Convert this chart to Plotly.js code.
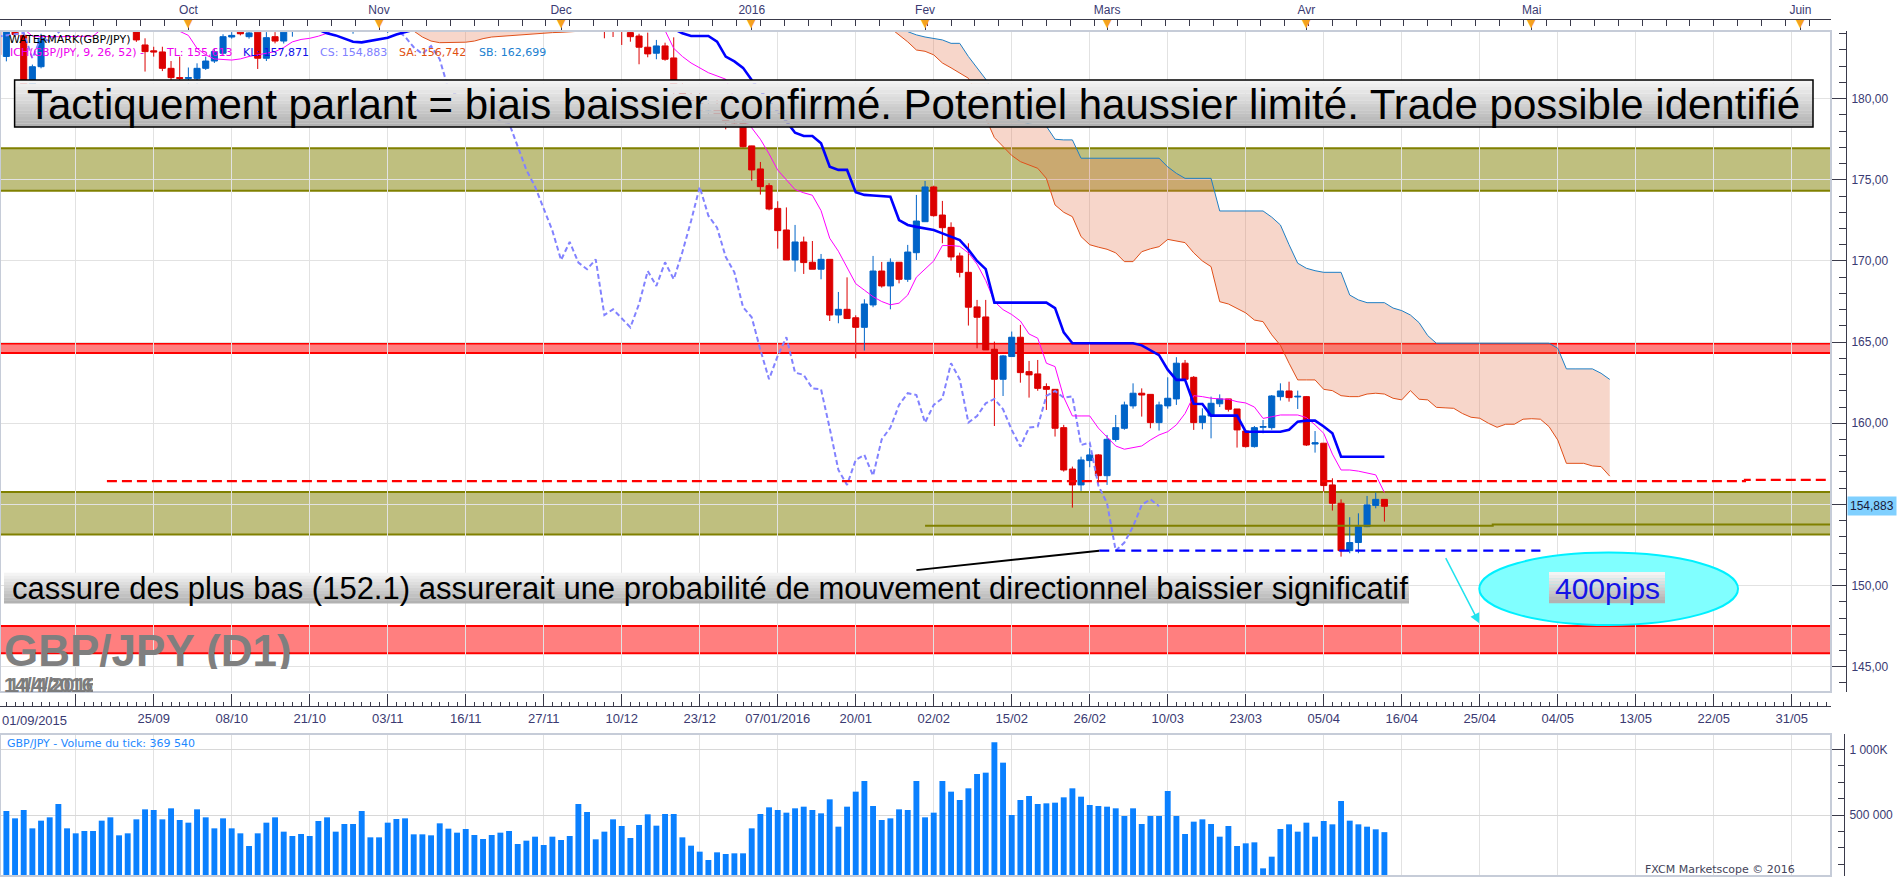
<!DOCTYPE html>
<html><head><meta charset="utf-8">
<script src="https://cdn.plot.ly/plotly-3.0.1.min.js"></script>
<style>html,body{margin:0;padding:0;background:#fff;overflow:hidden}#chart{width:1903px;height:878px}</style>
</head><body><div id="chart"></div>
<script>
// ---------- DATA (bar index 0 = 01/09/2015, trading days) ----------
const openP = [
186.0,182.6,184.4,183.9,180.8,181.97,184.3,185.0,185.8,185.4,
185.6,186.5,186.9,186.6,185.8,185.1,184.6,183.31,182.95,182.88,
181.87,181.3,181.25,181.25,181.87,182.32,182.8,183.8,184.1,183.82,
184.1,182.49,183.82,183.55,184.25,184.6,185.1,185.5,185.3,184.8,
185.2,184.9,185.1,185.6,186.0,185.4,185.5,186.0,186.6,186.4,
185.7,186.2,186.7,186.9,186.3,186.5,186.8,187.2,187.0,186.5,
185.6,185.9,185.4,185.7,185.9,186.1,185.2,185.5,184.9,185.3,
184.6,184.4,184.3,184.07,183.86,183.17,182.80,183.25,182.51,180.6,
180.2,179.9,179.3,179.5,179.0,178.6,178.5,177.09,175.67,174.64,
173.24,171.91,170.06,171.17,169.92,169.49,170.10,166.67,167.02,166.5,
165.91,167.29,169.38,168.46,169.92,168.87,170.51,172.42,174.56,172.83,
172.07,170.31,169.30,167.17,166.55,164.56,162.71,164.11,165.30,163.18,
163.04,162.26,162.09,159.73,157.18,156.20,157.70,158.05,156.77,159.00,
159.69,161.07,161.85,161.78,160.04,161.07,161.50,163.70,162.83,160.04,
160.45,161.20,161.50,160.88,159.52,158.56,159.75,159.73,161.64,161.99,
161.62,161.64,158.72,158.77,156.20,155.07,152.15,152.65,153.63,154.93,
155.31];
const highP = [
186.3,184.6,185.0,184.3,182.1,184.0,185.3,186.1,186.4,186.0,
186.8,187.3,187.6,187.0,186.3,185.5,185.0,183.72,183.2,183.2,
182.32,182.59,181.92,182.18,182.59,183.1,183.97,184.1,184.5,184.4,
184.3,184.1,184.1,184.5,184.9,185.3,185.8,186.2,185.6,185.4,
185.9,185.4,185.8,186.3,186.4,185.7,186.3,186.9,187.2,186.8,
186.5,187.0,187.4,187.3,186.9,187.1,187.5,187.9,187.4,186.9,
186.2,186.4,186.0,186.3,186.6,186.7,185.8,186.0,185.6,185.9,
185.0,184.8,184.6,184.5,184.0,184.07,183.62,183.45,183.78,181.0,
180.9,180.6,179.9,179.9,179.4,179.0,178.7,177.1,176.10,174.79,
173.68,173.3,172.22,171.50,171.23,170.43,170.10,168.09,168.99,166.65,
167.64,170.31,169.94,170.16,169.92,170.99,174.07,174.93,174.64,173.70,
172.38,170.51,171.09,167.60,167.60,165.03,164.20,165.65,166.06,163.84,
163.90,162.46,162.09,159.90,157.33,157.94,158.46,158.10,159.28,160.51,
161.33,162.46,162.15,161.78,161.33,162.83,164.07,163.90,162.91,160.92,
161.64,161.78,161.50,160.88,159.59,159.83,160.20,161.74,162.46,162.56,
162.01,161.68,159.52,158.77,156.61,155.31,154.21,154.45,155.52,155.73,
155.31];
const lowP = [
182.4,182.3,183.8,180.5,180.6,181.87,184.3,184.6,185.1,184.8,
185.3,186.0,186.2,185.5,184.9,184.3,183.5,181.67,182.59,181.7,
181.15,181.1,180.9,180.8,181.77,182.2,182.7,183.7,183.9,183.7,
181.83,182.32,183.41,183.4,183.82,184.4,184.8,185.0,184.5,184.4,
184.7,184.0,184.6,185.2,185.1,184.05,185.0,185.6,186.0,185.4,
185.2,185.8,186.2,186.0,185.6,186.0,186.3,186.7,186.1,185.3,
184.9,185.1,184.8,185.2,185.3,184.9,184.6,184.5,184.4,184.6,
183.72,183.8,183.31,183.51,182.12,182.55,182.43,182.34,180.3,179.9,
179.6,179.0,178.9,178.8,178.11,178.28,177.0,174.95,174.09,173.12,
170.76,170.06,169.34,169.20,169.49,168.87,166.30,166.16,166.45,164.00,
164.48,167.15,168.36,167.02,168.62,168.71,170.06,172.42,172.73,171.09,
170.02,168.99,166.02,164.62,164.52,159.83,161.68,164.11,162.50,161.58,
162.00,160.82,159.18,157.02,154.80,155.83,157.29,156.20,156.20,158.87,
159.60,160.90,160.41,159.69,159.55,160.90,161.13,162.60,159.59,159.63,
159.07,161.00,160.72,158.50,158.50,158.50,159.38,159.60,161.40,161.33,
160.88,158.60,158.19,155.79,154.62,151.78,151.99,151.99,153.60,154.76,
153.94];
const closeP = [
182.7,184.4,183.95,180.8,181.97,183.72,185.0,185.8,185.4,185.6,
186.5,186.9,186.6,185.8,185.1,184.6,183.62,182.9,182.88,181.87,
181.3,181.25,181.3,181.87,182.32,182.9,183.82,183.9,184.0,184.05,
182.49,183.76,183.55,184.1,184.6,185.1,185.5,185.3,184.8,185.2,
184.9,185.1,185.6,186.0,185.4,185.5,186.0,186.6,186.4,185.7,
186.2,186.7,186.9,186.3,186.5,186.8,187.2,187.0,186.5,185.6,
185.9,185.4,185.7,185.9,186.1,185.2,185.5,184.9,185.3,184.8,
184.4,184.3,184.25,183.82,183.17,182.76,183.25,182.43,180.6,180.2,
179.9,179.3,179.5,179.0,178.6,178.5,177.04,175.61,174.58,173.20,
171.87,170.06,171.17,169.90,169.49,170.10,166.67,167.02,166.45,165.91,
167.35,169.38,168.46,169.92,168.87,170.55,172.46,174.56,172.79,172.05,
170.25,169.30,167.15,166.53,164.52,162.71,164.15,165.30,163.12,162.98,
162.15,162.09,159.69,157.12,156.20,157.74,158.05,156.77,159.01,159.73,
161.13,161.85,161.74,160.04,161.13,161.54,163.70,162.71,160.04,160.45,
161.23,161.50,160.86,159.59,158.56,159.73,159.80,161.68,161.99,161.58,
161.66,158.66,158.80,156.16,155.07,152.15,152.65,153.63,154.97,155.31,
154.883];
// Ichimoku lines (null where the line runs above the visible range)
const tenkan = [
null,null,184.4,184.3,183.85,183.82,183.82,183.82,183.82,183.82,
183.82,183.85,184.3,null,null,null,null,null,null,null,
184.4,184.13,183.9,183.1,182.7,182.45,182.42,182.38,182.45,182.6,
182.7,182.79,182.9,183.15,183.5,183.65,183.72,183.85,184.03,184.3,
null,null,null,null,null,null,null,null,null,null,
null,null,null,null,null,null,null,null,null,null,
null,null,null,null,null,null,null,null,null,null,
null,null,null,null,null,null,184.5,184.2,183.1,182.6,
182.2,181.9,181.6,181.4,181.2,180.0,178.8,178.2,177.5,176.6,
175.6,175.0,174.4,174.2,174.05,173.1,171.4,170.6,169.6,168.6,
168.2,167.8,167.5,167.3,167.4,167.9,169.0,169.5,170.0,170.95,
170.95,170.9,170.5,169.8,168.8,167.5,167.0,166.7,166.3,165.5,
165.24,163.7,163.49,161.6,160.45,160.45,160.45,159.7,159.18,158.6,
158.4,158.5,158.6,158.97,159.28,159.48,159.9,160.6,161.7,161.64,
161.54,161.5,161.48,161.33,161.25,161.0,160.3,160.4,160.51,160.51,
160.51,160.35,159.9,159.38,158.1,157.12,157.12,157.05,156.95,156.82,
155.73];
const kijun = [
null,null,null,null,null,null,null,null,null,null,
null,null,null,null,null,null,null,null,null,null,
null,null,null,null,null,null,null,null,null,null,
null,null,null,null,null,null,null,184.25,184.03,183.9,
183.7,183.51,183.47,183.55,183.65,183.75,183.95,184.1,184.25,null,
null,null,null,null,null,null,null,null,null,null,
null,null,null,null,null,null,null,null,null,null,
null,null,null,null,null,null,null,null,184.3,184.03,
183.86,183.86,183.86,183.51,182.59,182.3,181.9,181.15,180.5,179.8,
179.2,178.6,177.9,177.7,177.7,177.25,175.81,175.61,175.61,174.23,
174.07,174.03,174.0,173.96,172.52,172.22,172.1,172.01,171.91,171.7,
171.5,171.29,170.7,170.0,169.5,167.43,167.43,167.43,167.43,167.43,
167.43,167.43,167.1,165.6,164.93,164.93,164.93,164.93,164.93,164.93,
164.93,164.93,164.8,164.5,164.2,163.3,162.67,162.67,161.2,161.19,
160.47,160.47,160.47,160.47,159.48,159.48,159.48,159.48,159.48,159.6,
160.1,160.16,160.16,159.8,159.38,157.94,157.94,157.94,157.94,157.94,
157.94];
const cloud1Start = 46;
const senkouA1 = [184.6,184.4,184.17,183.8,183.55,183.45,183.45,183.45,183.48,183.55,183.7,183.8,
  183.84,183.9,183.92,183.98,184.03,184.05,184.07,184.09,184.1,184.15,184.4,184.6];
const senkouB1 = [185.5,185.5,185.5,185.5,185.5,185.5,185.5,185.5,185.5,185.5,185.5,185.5,
  185.5,185.5,185.5,185.5,185.5,185.5,185.5,185.5,185.5,185.5,185.5,185.5];
const cloud2Start = 103;
const senkouA2 = [
184.35,183.95,183.5,183.0,182.92,182.7,182.2,181.9,181.6,181.26,
180.3,178.8,177.6,177.04,176.5,176.12,175.91,175.71,175.09,173.45,
173.0,172.73,171.5,171.0,170.85,170.72,170.5,169.96,169.96,170.57,
170.75,170.88,171.33,171.25,171.13,170.5,170.0,169.65,167.49,167.35,
167.1,166.8,166.36,166.26,165.45,164.8,163.7,162.67,162.67,162.67,
162.09,162.01,161.7,161.64,161.64,161.8,161.85,161.8,161.54,161.44,
162.01,161.48,161.44,160.98,160.95,160.92,160.6,160.37,160.31,160.0,
159.75,159.94,159.94,160.25,160.28,160.25,159.79,158.97,157.53,157.53,
157.53,157.37,157.33,156.74];
const senkouB2 = [
185.0,184.6,184.13,183.93,183.8,183.72,183.62,183.41,183.41,182.6,
181.9,181.2,180.3,179.5,178.9,178.6,178.45,178.35,178.3,177.5,
177.46,177.46,176.33,176.33,176.33,176.33,176.33,176.33,176.33,176.33,
176.33,176.33,175.8,175.4,175.09,175.09,175.09,175.09,173.08,173.08,
173.08,173.08,173.08,173.08,172.7,172.22,171.0,169.86,169.55,169.4,
169.3,169.3,169.3,167.9,167.6,167.43,167.43,167.43,167.1,166.94,
166.67,166.2,165.4,164.93,164.93,164.93,164.93,164.93,164.93,164.93,
164.93,164.93,164.93,164.93,164.93,164.93,164.93,164.62,163.35,163.35,
163.35,163.35,163.08,162.7];
const chikouShift = 26;
// tick volume, thousands
const volumeK = [
621.8,530.5,474.6,538.1,398.5,456.9,482.3,583.7,398.5,360.5,
378.3,378.3,456.9,482.3,345.3,360.5,467.0,543.1,538.1,467.0,
550.8,462.0,441.7,543.1,482.3,398.5,474.6,398.5,360.5,264.1,
360.5,441.7,482.3,373.2,340.2,355.4,340.2,454.4,482.3,373.2,
431.5,431.5,530.5,330.0,330.0,441.7,469.6,474.6,352.9,352.9,
345.3,436.6,396.0,365.6,393.5,347.8,317.4,347.8,365.6,378.3,
279.3,304.7,335.1,271.7,335.1,309.8,340.2,583.7,522.8,314.9,
373.2,467.0,416.3,325.0,423.9,505.1,418.8,507.6,507.6,330.0,
266.6,221.0,157.5,215.9,203.2,208.3,208.3,398.5,507.6,558.4,
538.1,517.8,550.8,563.4,538.1,512.7,619.2,411.2,563.4,677.6,
758.8,568.5,462.0,474.6,543.1,538.1,758.8,482.3,517.8,758.8,
677.6,614.2,703.0,812.1,822.2,1053.0,898.3,500.0,614.2,644.6,
583.7,588.8,593.9,634.5,703.0,639.5,576.2,568.5,563.4,550.8,
492.4,550.8,431.5,492.4,492.4,682.7,492.4,355.4,449.3,467.0,
431.5,335.1,416.3,264.1,284.4,292.0,94.1,182.9,393.5,429.0,
373.2,441.7,335.1,454.4,429.0,606.6,456.9,429.0,411.2,391.0,
369.54];
// axis labels
const dateTickIdx = [0,9,18,27,36,45,54,63,72,81,90,99,108,117,126,135,144,153,162,171,180,189,198,207];
const dateTickText = ['','','25/09','08/10','21/10','03/11','16/11','27/11','10/12','23/12','07/01/2016','20/01',
  '02/02','15/02','26/02','10/03','23/03','05/04','16/04','25/04','04/05','13/05','22/05','31/05'];
const firstDateLabel = '01/09/2015';
const monthIdx = [22,44,65,87,107,128,151,177,208];
const monthText = ['Oct','Nov','Dec','2016','Fev','Mars','Avr','Mai','Juin'];
const priceTicks = [145,150,155,160,165,170,175,180];
// drawn levels (price) and their bar-index extents
const oliveBands = [[174.33,176.95],[153.14,155.77]];
const redBands = [[164.33,164.91],[145.83,147.50]];
const resistX = [12.6,201.6,201.6,212], resistY = [156.44,156.44,156.51,156.51];
const supportX = [127.1,178], supportY = [152.15,152.15];
const trendX = [106,127.1], trendY = [150.95,152.15];
const innerX = [107,172.5,172.5,212], innerY = [153.69,153.69,153.76,153.76];
const targetX = [170.95,200.8], targetY = [147.57,152.03];
const arrowFrom = [166.99,151.78], arrowTo = [170.95,147.68];

// ---------- LAYOUT HELPERS ----------
const W = 1903, H = 878;
const fx = p => p / W, fy = p => 1 - p / H;
const idx = closeP.map((_, i) => i);
const xRange = [0.265, 211.53];
const FONT = 'Liberation Sans, Arial, sans-serif';
const SMALL = 'DejaVu Sans, Verdana, sans-serif';
const AXC = '#3a3a72';
const lastClose = closeP[closeP.length - 1];
// the last-price tag covers the nearest price label, as in the original
const priceTickText = priceTicks.map(v => Math.abs(v - lastClose) < 1 ? '' : v.toFixed(2).replace('.', ','));

function gradientBox(x0, y0, x1, y1, n, border) {
  const s = [];
  for (let k = 0; k < n; k++) {
    const c = Math.round(244 - (244 - 178) * k / (n - 1));
    s.push({type:'rect', xref:'paper', yref:'paper', layer:'above',
      x0:fx(x0), x1:fx(x1), y0:fy(y0 + (y1 - y0) * k / n), y1:fy(y0 + (y1 - y0) * (k + 1) / n) - 0.0002,
      fillcolor:`rgb(${c},${c},${c})`, line:{width:0}});
  }
  if (border) s.push({type:'rect', xref:'paper', yref:'paper', layer:'above',
    x0:fx(x0), x1:fx(x1), y0:fy(y0), y1:fy(y1), line:{color:'#000', width:1.5}});
  return s;
}

const shapes = [];
oliveBands.forEach(b => {
  shapes.push({type:'rect', xref:'x domain', yref:'y', x0:0, x1:1, y0:b[0], y1:b[1], layer:'below',
    fillcolor:'rgba(128,128,0,0.5)', line:{width:0}});
  b.forEach(v => shapes.push({type:'line', xref:'x domain', yref:'y', x0:0, x1:1, y0:v, y1:v, layer:'below',
    line:{color:'#808000', width:2}}));
});
redBands.forEach(b => {
  shapes.push({type:'rect', xref:'x domain', yref:'y', x0:0, x1:1, y0:b[0], y1:b[1], layer:'below',
    fillcolor:'rgba(255,0,0,0.5)', line:{width:0}});
  b.forEach(v => shapes.push({type:'line', xref:'x domain', yref:'y', x0:0, x1:1, y0:v, y1:v, layer:'below',
    line:{color:'#ff0000', width:2}}));
});
shapes.push({type:'rect', xref:'x domain', yref:'y domain', x0:0, x1:1, y0:0, y1:1, layer:'above',
  line:{color:'#c6ccd8', width:2}});
shapes.push({type:'rect', xref:'x3 domain', yref:'y2 domain', x0:0, x1:1, y0:0, y1:1, layer:'above',
  line:{color:'#c6ccd8', width:2}});
shapes.push({type:'circle', xref:'x', yref:'y', x0:targetX[0], x1:targetX[1], y0:targetY[0], y1:targetY[1],
  layer:'above', fillcolor:'#80ffff', line:{color:'#00f0ff', width:2}});
shapes.push(...gradientBox(14.6, 80, 1813, 127, 14, true));
shapes.push(...gradientBox(4, 572.7, 1409, 603.3, 10, false));
shapes.push(...gradientBox(1549, 572, 1665, 603, 10, false));

const annotations = [];
const txt = (x, y, text, size, color, extra, family) => Object.assign({xref:'paper', yref:'paper', x:fx(x), y:fy(y),
  text, showarrow:false, xanchor:'left', yanchor:'middle', font:{family:family || FONT, size, color}}, extra || {});
annotations.push(txt(7, 40, 'WATERMARK(GBP/JPY)', 11, '#000', null, SMALL));
annotations.push(txt(8, 52, 'ICH(GBP/JPY, 9, 26, 52) -', 11, '#ee00ee', null, SMALL));
annotations.push(txt(164, 52, 'TL: 155,613', 11, '#ee00ee', null, SMALL));
annotations.push(txt(241, 52, 'KL: 157,871', 11, '#1010e8', null, SMALL));
annotations.push(txt(318, 52, 'CS: 154,883', 11, '#8080ff', null, SMALL));
annotations.push(txt(397, 52, 'SA: 156,742', 11, '#e05010', null, SMALL));
annotations.push(txt(477, 52, 'SB: 162,699', 11, '#2080d0', null, SMALL));
annotations.push(txt(913.8, 104, 'Tactiquement parlant = biais baissier confirmé. Potentiel haussier limité. Trade possible identifié',
  42, '#000', {xanchor:'center'}));
annotations.push(txt(10, 588.5, 'cassure des plus bas (152.1) assurerait une probabilité de mouvement directionnel baissier significatif', 31, '#000'));
annotations.push(txt(1607, 588, '400pips', 30, '#1414e6', {xanchor:'center'}));
annotations.push(txt(2, 650, 'GBP/JPY (D1)', 44, '#7f7f7f', {height:38, font:{family:FONT, size:44, color:'#7f7f7f', weight:'bold'}}));
annotations.push(txt(2, 684, '14/4/2016', 20, '#7a7a7a', {height:17,
  font:{family:FONT, size:20, color:'#7c7c7c', weight:'bold', shadow:'4px 0px 0px rgba(110,110,110,0.9)'}}));
annotations.push(txt(5, 743, 'GBP/JPY - Volume du tick: 369 540', 11, '#1e88ff', null, SMALL));
annotations.push(txt(1797, 869, 'FXCM Marketscope © 2016', 11, '#44445a', {xanchor:'right'}, SMALL));
annotations.push(txt(0, 720, firstDateLabel, 13, AXC));
annotations.push({xref:'paper', yref:'y', x:fx(1847), y:lastClose, xanchor:'left', yanchor:'middle',
  text:lastClose.toFixed(3).replace('.', ','), showarrow:false, bgcolor:'#80d0ff', borderpad:2,
  font:{family:FONT, size:12, color:'#1a1a3a'}});
monthIdx.forEach(m => annotations.push({xref:'x', yref:'paper', x:m, y:fy(24), text:'▼', showarrow:false,
  yanchor:'middle', font:{family:'DejaVu Sans', size:11, color:'#f5a21e'}}));
annotations.push({xref:'x', yref:'y', axref:'x', ayref:'y', x:arrowTo[0], y:arrowTo[1], ax:arrowFrom[0], ay:arrowFrom[1],
  text:'', showarrow:true, arrowhead:2, arrowsize:1.3, arrowwidth:1.5, arrowcolor:'#22e2ee', standoff:0});

// ---------- TRACES ----------
const traces = [];
traces.push({x:senkouB1.map((_, i) => cloud1Start + i), y:senkouB1, mode:'lines', line:{color:'#1f7fc4', width:1}, hoverinfo:'skip'});
traces.push({x:senkouA1.map((_, i) => cloud1Start + i), y:senkouA1, mode:'lines', line:{color:'#e0501a', width:1},
  fill:'tonexty', fillcolor:'rgba(230,120,80,0.30)', hoverinfo:'skip'});
traces.push({x:senkouB2.map((_, i) => cloud2Start + i), y:senkouB2, mode:'lines', line:{color:'#1f7fc4', width:1}, hoverinfo:'skip'});
traces.push({x:senkouA2.map((_, i) => cloud2Start + i), y:senkouA2, mode:'lines', line:{color:'#e0501a', width:1},
  fill:'tonexty', fillcolor:'rgba(230,120,80,0.30)', hoverinfo:'skip'});
traces.push({x:closeP.slice(chikouShift).map((_, i) => i), y:closeP.slice(chikouShift), mode:'lines',
  line:{color:'#8282ff', width:2, dash:'5px,3px'}, hoverinfo:'skip'});
traces.push({type:'candlestick', x:idx, open:openP, high:highP, low:lowP, close:closeP, whiskerwidth:0,
  increasing:{line:{color:'#0064c8', width:1}, fillcolor:'#0064c8'},
  decreasing:{line:{color:'#dc0000', width:1}, fillcolor:'#dc0000'}, hoverinfo:'skip'});
traces.push({x:idx, y:tenkan, mode:'lines', line:{color:'#ff00ff', width:1}, hoverinfo:'skip'});
traces.push({x:idx, y:kijun, mode:'lines', line:{color:'#0000ff', width:2.6}, hoverinfo:'skip'});
traces.push({x:resistX, y:resistY, mode:'lines', line:{color:'#ff0000', width:2.2, dash:'10px,5px'}, hoverinfo:'skip'});
traces.push({x:supportX, y:supportY, mode:'lines', line:{color:'#0000ff', width:2.4, dash:'10px,6px'}, hoverinfo:'skip'});
traces.push({x:trendX, y:trendY, mode:'lines', line:{color:'#000000', width:2}, hoverinfo:'skip'});
traces.push({x:innerX, y:innerY, mode:'lines', line:{color:'#808000', width:2}, hoverinfo:'skip'});
traces.push({x:monthIdx, y:monthIdx.map(() => null), xaxis:'x2', yaxis:'y', mode:'markers', hoverinfo:'skip'});
traces.push({type:'bar', x:idx, y:volumeK.map(v => v * 1000), xaxis:'x3', yaxis:'y2', width:0.68,
  marker:{color:'#0a80ff', line:{width:0}}, hoverinfo:'skip'});
traces.forEach(t => { t.showlegend = false; });

const tickFont = {family:FONT, size:13, color:AXC};
const layout = {
  width:W, height:H, margin:{l:0, r:0, t:0, b:0}, paper_bgcolor:'#fff', plot_bgcolor:'#fff',
  showlegend:false, hovermode:false, dragmode:false, separators:', ', boxgap:0.3, boxgroupgap:0,
  font:{family:FONT, size:12, color:AXC},
  xaxis:{domain:[0, fx(1831)], range:xRange, anchor:'free', position:fy(706), side:'bottom',
    tickmode:'array', tickvals:dateTickIdx, ticktext:dateTickText, ticks:'inside', ticklen:12, tickcolor:'#3a3a4a',
    showline:true, linecolor:'#3a3a4a', linewidth:1, showgrid:true, gridcolor:'#e2e2e2', gridwidth:1,
    zeroline:false, tickfont:tickFont, rangeslider:{visible:false}, fixedrange:true,
    minor:{tickmode:'linear', tick0:0, dtick:1, ticklen:4, ticks:'inside', tickcolor:'#3a3a4a', showgrid:false}},
  xaxis2:{overlaying:'x', matches:'x', anchor:'free', position:fy(19), side:'top',
    tickmode:'array', tickvals:monthIdx, ticktext:monthText, ticks:'inside', ticklen:11, tickcolor:'#3a3a4a',
    showline:true, linecolor:'#3a3a4a', linewidth:1, showgrid:false, zeroline:false,
    tickfont:{family:FONT, size:12, color:AXC}, ticklabelstandoff:0,
    minor:{tickmode:'linear', tick0:22, dtick:2.75, ticklen:6, ticks:'inside', tickcolor:'#3a3a4a', showgrid:false}},
  xaxis3:{domain:[0, fx(1831)], anchor:'y2', matches:'x', tickmode:'array', tickvals:dateTickIdx,
    showticklabels:false, ticks:'', showgrid:true, gridcolor:'#e2e2e2', zeroline:false, showline:false},
  yaxis:{domain:[fy(692), fy(31)], range:[143.44, 184.17], side:'right', anchor:'free', position:fx(1846),
    tickmode:'array', tickvals:priceTicks, ticktext:priceTickText, ticks:'inside', ticklen:15, tickcolor:'#3a3a4a',
    showline:true, linecolor:'#3a3a4a', linewidth:1, showgrid:true, gridcolor:'#e2e2e2', zeroline:false,
    tickfont:{family:FONT, size:12, color:AXC}, ticklabelstandoff:2, fixedrange:true,
    minor:{tickmode:'linear', tick0:145, dtick:1, ticklen:7, ticks:'inside', tickcolor:'#3a3a4a', showgrid:false}},
  yaxis2:{domain:[fy(876), fy(734)], range:[35800, 1116400], side:'right', anchor:'free', position:fx(1844),
    tickmode:'array', tickvals:[500000, 1000000], ticktext:['500 000', '1 000K'], ticks:'inside', ticklen:12,
    tickcolor:'#3a3a4a', showline:true, linecolor:'#3a3a4a', linewidth:1, showgrid:true, gridcolor:'#d8d8d8',
    zeroline:false, tickfont:{family:FONT, size:12, color:AXC}, ticklabelstandoff:2,
    minor:{tickmode:'linear', tick0:0, dtick:125000, ticklen:6, ticks:'inside', tickcolor:'#3a3a4a', showgrid:false}},
  shapes, annotations
};
Plotly.newPlot('chart', traces, layout, {displayModeBar:false, staticPlot:true});
</script></body></html>
